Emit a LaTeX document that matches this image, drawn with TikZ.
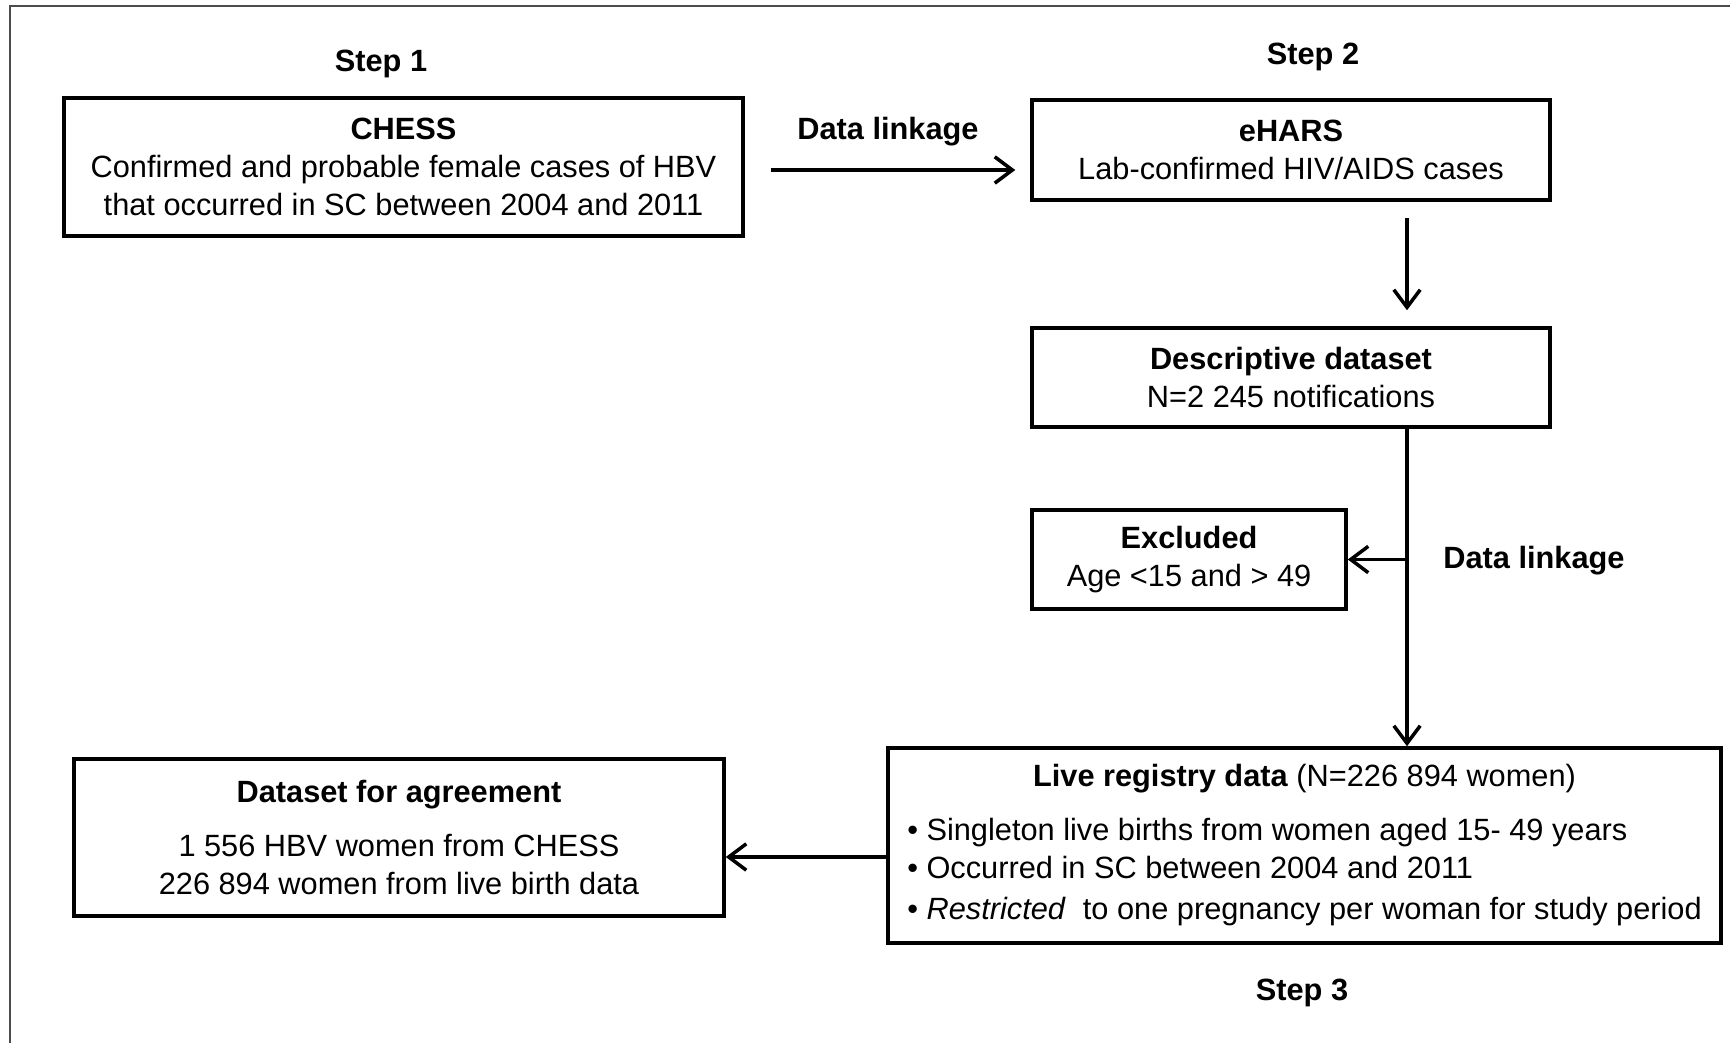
\documentclass[tikz,border=0pt]{standalone}
\usepackage{fontspec}
\setmainfont{Liberation Sans}
\usetikzlibrary{arrows.meta}

\begin{document}
\begin{tikzpicture}[x=1cm,y=1cm,line join=miter,
  font=\fontsize{8.75}{10.9}\selectfont,
  box/.style={draw,line width=1pt,align=center,inner sep=0pt},
  steplbl/.style={font=\fontsize{8.75}{10.9}\selectfont\bfseries},
  arr/.style={-{Straight Barb[length=5pt,width=7.5pt]},line width=1pt}]
\useasboundingbox (0,0) rectangle (17.30,-10.43);
\draw[black!70,line width=0.6pt] (0.10,-10.43) -- (0.10,-0.06) -- (17.30,-0.06);
% step 1
\node[steplbl] (step1) at (3.81,-0.64) {Step 1};
\node[box,minimum width=6.79cm,minimum height=1.38cm] (chess) at (4.035,-1.67)
  {\textbf{CHESS}\\Confirmed and probable female cases of HBV\\that occurred in SC between 2004 and 2011};
\node[steplbl] (link1) at (8.88,-1.32) {Data linkage};
% step 2
\node[steplbl] (step2) at (13.13,-0.57) {Step 2};
\node[box,minimum width=5.18cm,minimum height=1.00cm] (ehars) at (12.91,-1.50)
  {\textbf{eHARS}\\Lab-confirmed HIV/AIDS cases};
\node[box,minimum width=5.18cm,minimum height=0.99cm] (desc) at (12.91,-3.775)
  {\textbf{Descriptive dataset}\\N=2 245 notifications};
\node[box,minimum width=3.14cm,minimum height=0.99cm] (excl) at (11.89,-5.595)
  {\textbf{Excluded}\\Age <15 and > 49};
\node[steplbl] (link2) at (15.34,-5.61) {Data linkage};
% step 3
\node[box,minimum width=8.33cm,minimum height=1.95cm] (live) at (13.045,-8.455)
  {\begin{tabular}{@{}l@{}}
   \multicolumn{1}{@{}c@{}}{\textbf{Live registry data} (N=226 894 women)}\\[4.5pt]
   \textbullet\ Singleton live births from women aged 15- 49 years\\
   \textbullet\ Occurred in SC between 2004 and 2011\\[0.8pt]
   \textbullet\ \textit{Restricted}\ \ to one pregnancy per woman for study period
   \end{tabular}};
\node[box,minimum width=6.50cm,minimum height=1.57cm] (agree) at (3.99,-8.375)
  {\textbf{Dataset for agreement}\\[4.5pt]1 556 HBV women from CHESS\\226 894 women from live birth data};
\node[steplbl] (step3) at (13.02,-9.93) {Step 3};
% connectors
\draw[arr,shorten <=0.26cm,shorten >=0.15cm] ([yshift=-0.03cm]chess.east) -- ([yshift=-0.03cm]chess.east -| ehars.west);
\draw[arr,shorten <=0.16cm,shorten >=0.16cm] ([xshift=1.16cm]ehars.south) -- ([xshift=1.16cm]desc.north);
\coordinate (trunk) at ([xshift=1.16cm]desc.south);
\draw[arr] (trunk) -- (trunk |- live.north);
\coordinate (split) at (trunk |- excl.east);
\draw[arr] (split) -- (excl.east);
\draw[arr] ([yshift=-0.115cm]live.west) -- ([yshift=-0.115cm]live.west -| agree.east);
\end{tikzpicture}
\end{document}
